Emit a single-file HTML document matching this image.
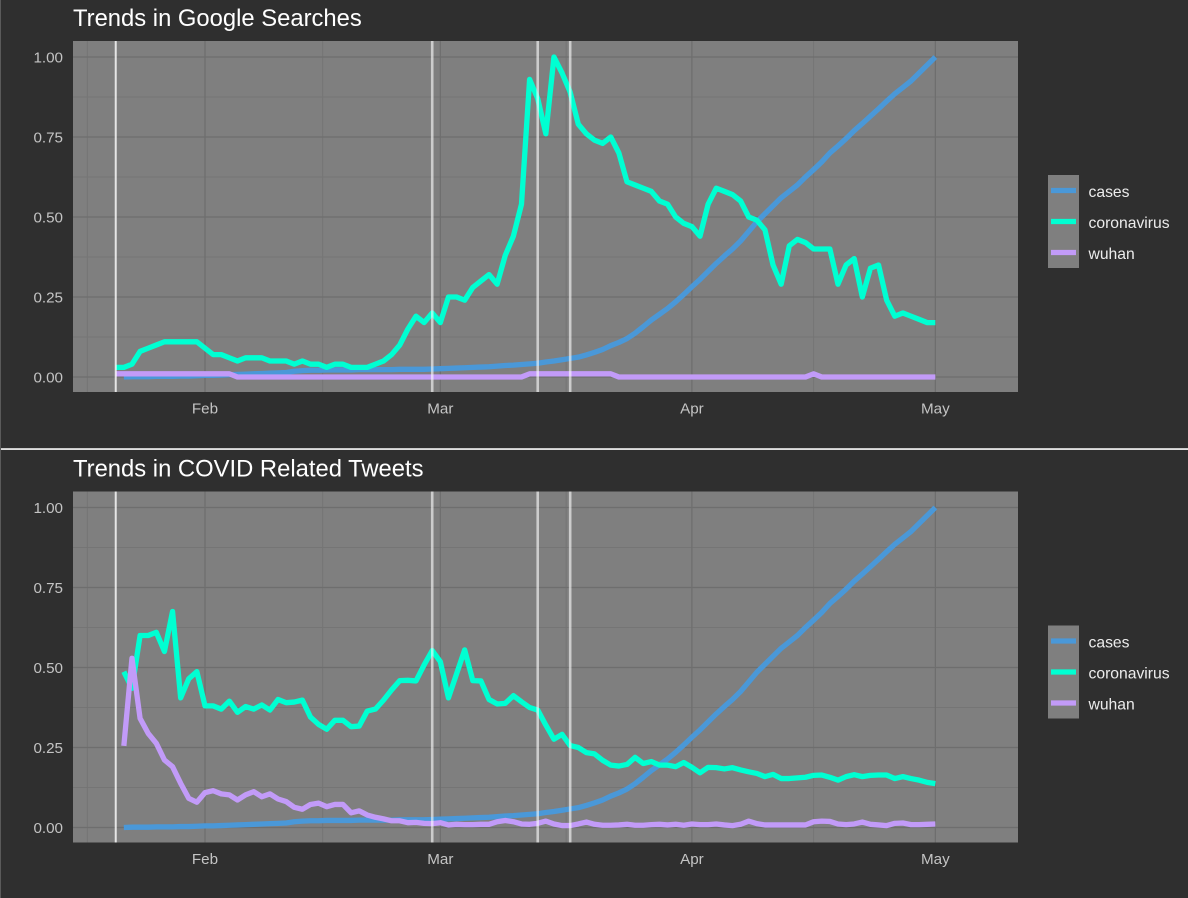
<!DOCTYPE html>
<html>
<head>
<meta charset="utf-8">
<style>
html,body{margin:0;padding:0;background:#2f2f2f;width:1188px;height:898px;overflow:hidden;}
svg{display:block;font-family:"Liberation Sans",sans-serif;filter:blur(0.35px);}
</style>
</head>
<body>
<svg id="chart" xmlns="http://www.w3.org/2000/svg" width="1188" height="898" viewBox="0 0 1188 898">
<rect x="0" y="0" width="1188" height="898" fill="#2f2f2f"/>
<rect x="0" y="0" width="1" height="898" fill="#5a5a5a"/>
<rect x="1" y="448.2" width="1187" height="1.7" fill="#f2f2f2"/>
</svg>
<script>
// Days are counted from Feb 1 (day 0); each series lists one value per day.
const seriesNames = ["cases", "coronavirus", "wuhan"];
const titles = ["Trends in Google Searches", "Trends in COVID Related Tweets"];
const yTicks = [0, 0.25, 0.5, 0.75, 1];
const yTickLabels = ["0.00", "0.25", "0.50", "0.75", "1.00"];
const yMinorTicks = [0.125, 0.375, 0.625, 0.875];
const xTicks = [0, 29, 60, 90];
const xTickLabels = ["Feb", "Mar", "Apr", "May"];
const xMinorTicks = [-14.5, 14.5, 44.5, 75];
const eventDays = [-11, 28, 41, 45];

const casesStart = -10;
const cases = [0.000,0.001,0.001,0.001,0.002,0.002,0.002,0.003,0.003,0.004,0.005,0.005,0.006,0.007,0.008,0.009,0.010,0.011,0.012,0.013,0.014,0.018,0.020,0.021,0.021,0.022,0.022,0.022,0.022,0.023,0.023,0.023,0.023,0.023,0.024,0.024,0.024,0.024,0.025,0.026,0.027,0.028,0.029,0.030,0.031,0.032,0.034,0.036,0.037,0.039,0.041,0.043,0.047,0.050,0.054,0.058,0.062,0.069,0.077,0.086,0.098,0.108,0.120,0.137,0.157,0.178,0.196,0.214,0.235,0.258,0.282,0.305,0.330,0.355,0.378,0.400,0.425,0.455,0.485,0.510,0.535,0.560,0.580,0.600,0.625,0.648,0.672,0.700,0.722,0.745,0.770,0.792,0.815,0.838,0.862,0.885,0.905,0.925,0.950,0.975,1.000];

const googleStart = -11;
const googleCoronavirus = [0.03,0.03,0.04,0.08,0.09,0.10,0.11,0.11,0.11,0.11,0.11,0.09,0.07,0.07,0.06,0.05,0.06,0.06,0.06,0.05,0.05,0.05,0.04,0.05,0.04,0.04,0.03,0.04,0.04,0.03,0.03,0.03,0.04,0.05,0.07,0.10,0.15,0.19,0.17,0.20,0.17,0.25,0.25,0.24,0.28,0.30,0.32,0.29,0.38,0.44,0.54,0.93,0.87,0.76,1.00,0.95,0.89,0.79,0.76,0.74,0.73,0.75,0.70,0.61,0.60,0.59,0.58,0.55,0.54,0.50,0.48,0.47,0.44,0.54,0.59,0.58,0.57,0.55,0.50,0.49,0.46,0.35,0.29,0.41,0.43,0.42,0.40,0.40,0.40,0.29,0.35,0.37,0.25,0.34,0.35,0.24,0.19,0.20,0.19,0.18,0.17,0.17];
const googleWuhan = [0.01,0.01,0.01,0.01,0.01,0.01,0.01,0.01,0.01,0.01,0.01,0.01,0.01,0.01,0.01,0,0,0,0,0,0,0,0,0,0,0,0,0,0,0,0,0,0,0,0,0,0,0,0,0,0,0,0,0,0,0,0,0,0,0,0,0.01,0.01,0.01,0.01,0.01,0.01,0.01,0.01,0.01,0.01,0.01,0,0,0,0,0,0,0,0,0,0,0,0,0,0,0,0,0,0,0,0,0,0,0,0,0.01,0,0,0,0,0,0,0,0,0,0,0,0,0,0,0];

const tweetStart = -10;
const tweetCoronavirus = [0.487,0.435,0.60,0.60,0.61,0.55,0.675,0.405,0.465,0.487,0.38,0.38,0.37,0.395,0.36,0.378,0.37,0.383,0.367,0.40,0.39,0.392,0.398,0.345,0.322,0.307,0.335,0.335,0.315,0.317,0.364,0.37,0.398,0.43,0.459,0.46,0.458,0.508,0.553,0.518,0.405,0.48,0.555,0.459,0.458,0.40,0.386,0.388,0.412,0.393,0.375,0.367,0.32,0.276,0.291,0.256,0.25,0.234,0.23,0.21,0.195,0.192,0.197,0.219,0.20,0.206,0.195,0.195,0.19,0.203,0.188,0.171,0.188,0.187,0.183,0.187,0.18,0.174,0.169,0.159,0.166,0.153,0.153,0.155,0.157,0.163,0.164,0.157,0.148,0.159,0.165,0.159,0.163,0.164,0.164,0.153,0.159,0.153,0.148,0.141,0.137];
const tweetWuhan = [0.255,0.529,0.341,0.294,0.263,0.211,0.19,0.138,0.091,0.079,0.109,0.115,0.105,0.102,0.086,0.102,0.112,0.096,0.105,0.089,0.081,0.063,0.057,0.072,0.076,0.065,0.072,0.072,0.046,0.052,0.039,0.032,0.027,0.021,0.021,0.015,0.016,0.013,0.012,0.015,0.008,0.01,0.009,0.009,0.01,0.01,0.018,0.022,0.018,0.011,0.01,0.013,0.02,0.011,0.006,0.006,0.011,0.017,0.01,0.007,0.007,0.008,0.01,0.007,0.007,0.009,0.01,0.008,0.01,0.007,0.011,0.009,0.009,0.011,0.008,0.006,0.01,0.02,0.012,0.008,0.008,0.008,0.008,0.008,0.008,0.018,0.02,0.019,0.011,0.009,0.011,0.017,0.01,0.008,0.006,0.013,0.014,0.009,0.009,0.01,0.011];

const SVGNS = "http://www.w3.org/2000/svg";
const svg = document.getElementById("chart");
const colors = {cases: "#4a98d8", coronavirus: "#00ffd2", wuhan: "#c29bf8"};

function xScale(day) { return 205 + day * 8.115; }

function add(parent, tag, attrs) {
  const el = document.createElementNS(SVGNS, tag);
  for (const k in attrs) el.setAttribute(k, attrs[k]);
  parent.appendChild(el);
  return el;
}

function drawPanel(index, offset, panelSeries) {
  const yScale = v => offset + 377 - v * 320;
  const panelName = index === 0 ? "searches" : "tweets";
  const group = add(svg, "g", {});
  
  

  const title = add(group, "text", {x: 73, y: offset + 26, fill: "#ffffff", "font-size": 23.8});
  
  
  title.textContent = titles[index];

  const panelBg = add(group, "rect", {x: 73, y: offset + 41, width: 945, height: 351, fill: "#7f7f7f"});
  
  

  yMinorTicks.forEach(v => {
    const g = add(group, "line", {x1: 73, x2: 1018, y1: yScale(v), y2: yScale(v), stroke: "#757575", "stroke-width": 1});
    
    
  });
  xMinorTicks.forEach(d => {
    const g = add(group, "line", {x1: xScale(d), x2: xScale(d), y1: offset + 41, y2: offset + 392, stroke: "#757575", "stroke-width": 1});
    
    
  });
  yTicks.forEach((v, i) => {
    const g = add(group, "line", {x1: 73, x2: 1018, y1: yScale(v), y2: yScale(v), stroke: "#6e6e6e", "stroke-width": 1.2});
    
    
    const t = add(group, "text", {x: 63, y: yScale(v) + 5.5, "text-anchor": "end", fill: "#c4c4c4", "font-size": 15.2});
    
    
    t.textContent = yTickLabels[i];
  });
  xTicks.forEach((d, i) => {
    const g = add(group, "line", {x1: xScale(d), x2: xScale(d), y1: offset + 41, y2: offset + 392, stroke: "#6e6e6e", "stroke-width": 1.2});
    
    
    const t = add(group, "text", {x: xScale(d), y: offset + 413.3, "text-anchor": "middle", fill: "#c4c4c4", "font-size": 15.2});
    
    
    t.textContent = xTickLabels[i];
  });

  panelSeries.forEach(s => {
    const pts = s.values.map((v, i) => xScale(s.start + i).toFixed(2) + "," + yScale(v).toFixed(2)).join(" ");
    const line = add(group, "polyline", {points: pts, fill: "none", stroke: colors[s.name], "stroke-width": 5.3, "stroke-linejoin": "round", "stroke-linecap": "butt"});
    
    
  });

  eventDays.forEach((d, i) => {
    const v = add(group, "line", {x1: xScale(d), x2: xScale(d), y1: offset + 41, y2: offset + 392, stroke: "#ffffff", "stroke-width": i === 0 ? 2 : 2.6, "stroke-opacity": i === 0 ? 0.8 : 0.6});
    
    
  });

  const legendBg = add(group, "rect", {x: 1048, y: offset + 175, width: 31, height: 93, fill: "#7f7f7f"});
  
  
  seriesNames.forEach((name, i) => {
    const ly = offset + 190.5 + i * 31;
    const key = add(group, "line", {x1: 1051, x2: 1076, y1: ly, y2: ly, stroke: colors[name], "stroke-width": 5.3});
    
    
    const label = add(group, "text", {x: 1088.5, y: ly + 6.5, fill: "#ececec", "font-size": 15.7});
    
    
    label.textContent = name;
  });
}

drawPanel(0, 0, [
  {name: "cases", start: casesStart, values: cases},
  {name: "coronavirus", start: googleStart, values: googleCoronavirus},
  {name: "wuhan", start: googleStart, values: googleWuhan}
]);
drawPanel(1, 450.5, [
  {name: "cases", start: casesStart, values: cases},
  {name: "coronavirus", start: tweetStart, values: tweetCoronavirus},
  {name: "wuhan", start: tweetStart, values: tweetWuhan}
]);
</script>
</body>
</html>
